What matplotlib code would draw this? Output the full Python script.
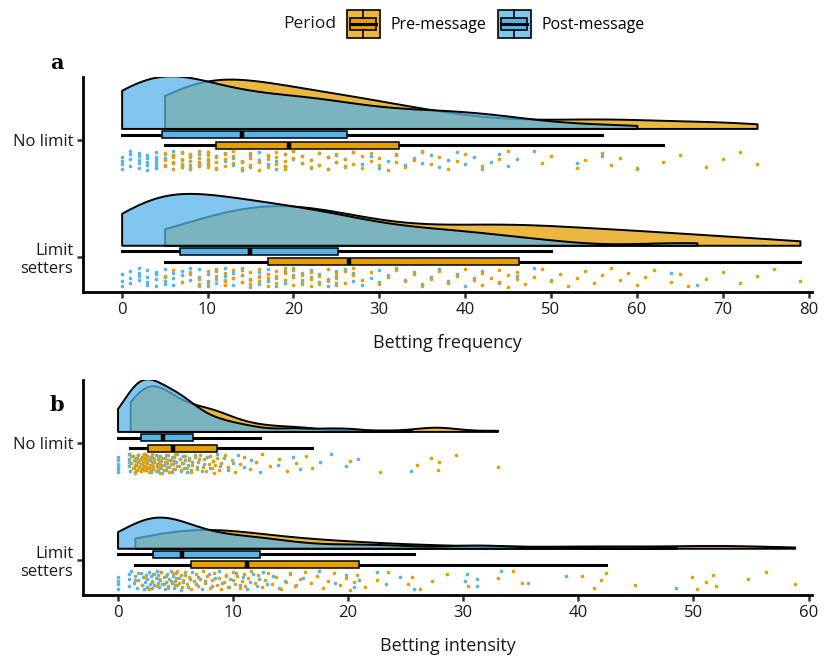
import numpy as np
import matplotlib.pyplot as plt
from matplotlib.patches import Rectangle
from matplotlib.lines import Line2D
from matplotlib.colors import to_rgba
from matplotlib.legend_handler import HandlerBase

plt.rcParams["font.family"] = ["Open Sans", "DejaVu Sans"]

PRE_COLOR = "#E69F00"
POST_COLOR = "#56B4E9"

group_labels = ["No limit", "Limit\nsetters"]
period_labels = ["Pre-message", "Post-message"]

# a: betting frequency
freq_nolimit_post = [
    0, 0, 0, 0, 1, 1, 1, 1, 2, 2, 2, 2, 2, 3, 3, 3, 3, 3, 4, 4, 4, 4, 4, 4, 4,
    5, 5, 5, 6, 6, 6, 7, 7, 7, 8, 8, 8, 9, 9, 9, 10, 10, 10, 11, 11, 12, 12, 13, 13, 14,
    14, 15, 15, 16, 16, 17, 17, 18, 18, 19, 19, 20, 20, 21, 21, 22, 22, 23, 23, 24, 24, 25, 25, 26, 26,
    27, 28, 29, 30, 31, 32, 33, 34, 35, 35, 36, 37, 38, 39, 40, 41, 42, 43, 44, 45, 46, 48, 53, 56, 60,
]
freq_nolimit_pre = [
    5, 5, 5, 6, 6, 6, 6, 7, 7, 7, 7, 8, 8, 8, 8, 9, 9, 9, 9, 10, 10, 10, 10, 10, 11,
    11, 11, 12, 12, 12, 13, 13, 13, 14, 14, 15, 15, 15, 16, 16, 17, 17, 17, 18, 18, 18, 19, 19, 19, 19,
    20, 20, 21, 21, 22, 22, 23, 23, 24, 24, 25, 25, 26, 26, 27, 27, 28, 28, 29, 29, 30, 30, 31, 32, 32,
    33, 34, 35, 36, 37, 38, 39, 40, 42, 44, 45, 49, 50, 53, 54, 56, 57, 58, 60, 63, 65, 68, 70, 72, 74,
]
freq_limit_post = [
    0, 0, 0, 1, 1, 1, 2, 2, 2, 2, 3, 3, 3, 3, 4, 4, 4, 4, 5, 5, 5, 5, 6, 6, 6,
    7, 7, 7, 8, 8, 8, 9, 9, 9, 10, 10, 10, 11, 11, 11, 12, 12, 12, 13, 13, 13, 14, 14, 14, 15,
    15, 16, 16, 16, 17, 17, 17, 18, 18, 19, 19, 20, 20, 21, 21, 21, 22, 22, 23, 23, 24, 24, 25, 25, 25,
    26, 27, 27, 28, 29, 30, 30, 31, 32, 33, 34, 35, 36, 37, 38, 39, 40, 41, 42, 44, 46, 48, 50, 64, 67,
]
freq_limit_pre = [
    5, 6, 7, 8, 9, 9, 10, 10, 11, 11, 12, 12, 12, 13, 13, 14, 14, 14, 15, 15, 15, 16, 16, 16, 17,
    17, 17, 18, 18, 18, 19, 19, 19, 20, 20, 20, 21, 21, 22, 22, 22, 23, 23, 24, 24, 25, 25, 25, 26, 26,
    27, 27, 28, 29, 30, 31, 32, 33, 34, 35, 36, 37, 38, 39, 40, 41, 42, 42, 43, 44, 44, 45, 45, 46, 46,
    47, 48, 49, 50, 51, 52, 53, 54, 55, 56, 57, 58, 59, 60, 61, 62, 64, 65, 66, 68, 70, 72, 74, 76, 79,
]

# b: betting intensity
int_nolimit_post = [
    0, 0, 0, 0, 0, 0, 1, 1, 1, 1, 1.1, 1.2, 1.3, 1.4, 1.5, 1.5, 1.6, 1.7, 1.7, 1.8, 1.8, 1.9, 1.9, 2.0, 2.0,
    2.1, 2.1, 2.2, 2.3, 2.3, 2.4, 2.5, 2.6, 2.6, 2.7, 2.8, 2.9, 3.0, 3.0, 3.1, 3.2, 3.3, 3.4, 3.5, 3.5,
    3.6, 3.7, 3.8, 3.8, 3.9,
    4.0, 4.1, 4.2, 4.3, 4.4, 4.5, 4.6, 4.7, 4.8, 4.9, 5.0, 5.1, 5.2, 5.3, 5.4, 5.5, 5.6, 5.7, 5.8, 5.9,
    6.0, 6.1, 6.2, 6.4, 6.5,
    6.7, 6.9, 7.1, 7.3, 7.5, 7.8, 8.0, 8.3, 8.6, 8.9, 9.2, 9.6, 10.0, 10.5, 11.0, 11.6, 12.4, 13.9,
    15.2, 15.8, 17.6, 18.5, 19.8, 20.9, 25.5,
]
int_nolimit_pre = [
    1.1, 1.2, 1.3, 1.4, 1.5, 1.5, 1.6, 1.7, 1.8, 1.8, 1.9, 2.0, 2.0, 2.1, 2.1, 2.2, 2.2, 2.3, 2.3, 2.4,
    2.4, 2.5, 2.5, 2.6, 2.6,
    2.7, 2.8, 2.8, 2.9, 3.0, 3.0, 3.1, 3.2, 3.3, 3.4, 3.5, 3.5, 3.6, 3.7, 3.8, 3.9, 4.0, 4.1, 4.2, 4.3,
    4.4, 4.5, 4.6, 4.7, 4.8,
    4.9, 5.0, 5.2, 5.4, 5.5, 5.7, 5.9, 6.0, 6.2, 6.4, 6.5, 6.7, 6.9, 7.0, 7.2, 7.4, 7.5, 7.7, 7.9, 8.0,
    8.2, 8.3, 8.4, 8.5, 8.6,
    8.8, 9.0, 9.3, 9.6, 9.9, 10.2, 10.6, 11.0, 11.5, 12.0, 12.5, 13.2, 14.0, 14.7, 15.5, 16.4, 16.9,
    20.2, 22.8, 26.0, 27.2, 27.8, 27.9, 29.4, 33.0,
]
int_limit_post = [
    0, 0, 0, 0, 1, 1, 1, 1.2, 1.4, 1.5, 1.7, 1.8, 2.0, 2.1, 2.2, 2.3, 2.4, 2.5, 2.6, 2.6, 2.7, 2.8, 2.9,
    3.0, 3.0,
    3.1, 3.2, 3.3, 3.4, 3.5, 3.5, 3.6, 3.7, 3.8, 3.9, 4.0, 4.1, 4.2, 4.3, 4.4, 4.5, 4.6, 4.7, 4.8, 4.9,
    5.0, 5.1, 5.2, 5.3, 5.5,
    5.7, 5.9, 6.1, 6.3, 6.5, 6.8, 7.0, 7.3, 7.6, 7.9, 8.2, 8.5, 8.8, 9.1, 9.4, 9.7, 10.0, 10.3, 10.6,
    10.9, 11.2, 11.5, 11.8, 12.1, 12.3,
    12.6, 13.0, 13.5, 14.0, 14.5, 15.0, 15.5, 16.1, 17.5, 18.9, 19.8, 20.5, 21.0, 22.5, 23.3, 24.5, 25.7,
    30.2, 30.3, 31.2, 31.2, 33.3, 35.6, 38.9, 48.5,
]
int_limit_pre = [
    1.5, 1.8, 2.1, 2.4, 2.7, 3.0, 3.2, 3.4, 3.6, 3.8, 4.0, 4.2, 4.4, 4.6, 4.8, 5.0, 5.1, 5.2, 5.3, 5.5,
    5.6, 5.7, 5.9, 6.0, 6.2,
    6.4, 6.6, 6.8, 7.0, 7.2, 7.4, 7.6, 7.8, 8.0, 8.2, 8.4, 8.6, 8.8, 9.0, 9.2, 9.4, 9.6, 9.8, 10.0, 10.2,
    10.4, 10.6, 10.8, 11.0, 11.1,
    11.3, 11.6, 11.9, 12.2, 12.5, 12.8, 13.1, 13.4, 13.8, 14.2, 14.6, 15.0, 15.4, 15.8, 16.3, 16.8, 17.3,
    17.8, 18.3, 18.8, 19.3, 19.8, 20.2, 20.5, 20.8,
    21.5, 22.5, 23.5, 25.2, 25.6, 26.3, 27.3, 28.6, 30.4, 33.0, 34.3, 35.1, 40.3, 41.4, 42.0, 42.4, 44.9,
    49.9, 50.3, 51.1, 51.7, 52.0, 54.7, 56.3, 58.8,
]

# group index 1 = No limit (top), 0 = Limit setters
panel_a = {1: (freq_nolimit_pre, freq_nolimit_post), 0: (freq_limit_pre, freq_limit_post)}
panel_b = {1: (int_nolimit_pre, int_nolimit_post), 0: (int_limit_pre, int_limit_post)}


def kde_nrd0(values, n_grid=512):
    v = np.asarray(values, float)
    sd = v.std(ddof=1)
    q75, q25 = np.percentile(v, [75, 25])
    bw = 0.9 * min(sd, (q75 - q25) / 1.34) * len(v) ** -0.2
    grid = np.linspace(v.min(), v.max(), n_grid)
    z = (grid[:, None] - v[None, :]) / bw
    dens = np.exp(-0.5 * z ** 2).sum(axis=1) / (len(v) * bw * np.sqrt(2 * np.pi))
    return grid, dens


def jitter(n, phase):
    # deterministic spread of points across the rain band
    return -0.09 - 0.165 * ((0.5 + phase + np.arange(n) * 0.6180339887) % 1.0)


def raincloud(ax, panel):
    curves = {}
    for g, (pre, post) in panel.items():
        curves[g] = (kde_nrd0(pre), kde_nrd0(post))
    gmax = max(c[1].max() for pair in curves.values() for c in pair)
    scale = 0.45 / gmax
    for g, (pre, post) in panel.items():
        base = g + 0.10
        for (grid, dens), col in zip(curves[g], [PRE_COLOR, POST_COLOR]):
            ax.fill_between(grid, base, base + dens * scale, facecolor=to_rgba(col, 0.75),
                            edgecolor="black", linewidth=1.4, zorder=2)
        for vals, col, off in [(post, POST_COLOR, 0.047), (pre, PRE_COLOR, -0.043)]:
            ax.boxplot(vals, vert=False, positions=[g + off], widths=0.06, patch_artist=True,
                       showfliers=False, showcaps=False, manage_ticks=False,
                       boxprops=dict(facecolor=col, edgecolor="black", linewidth=1.1, zorder=4),
                       whiskerprops=dict(color="black", linewidth=2.2, zorder=3),
                       medianprops=dict(color="black", linewidth=3.2, zorder=5))
        ax.scatter(post, g + jitter(len(post), 0.21), s=7, color=POST_COLOR, linewidths=0, zorder=6)
        ax.scatter(pre, g + jitter(len(pre), 0.0), s=7, color=PRE_COLOR, linewidths=0, zorder=6)


def style(ax, xlabel, xticks):
    ax.set_ylim(-0.30, 1.54)
    ax.set_yticks([1, 0])
    ax.set_yticklabels(group_labels)
    ax.set_xticks(xticks)
    ax.set_xlabel(xlabel, fontsize=13, labelpad=12, color="#1a1a1a")
    for s in ["top", "right"]:
        ax.spines[s].set_visible(False)
    for s in ["left", "bottom"]:
        ax.spines[s].set_linewidth(2)
    ax.tick_params(length=4, width=1.8, color="#333333", labelsize=12, labelcolor="#1a1a1a", pad=3)


class BoxKeyHandler(HandlerBase):
    def create_artists(self, legend, orig_handle, xdescent, ydescent, width, height, fontsize, trans):
        col = orig_handle.get_facecolor()
        x0, y0 = -xdescent, -ydescent
        outer = Rectangle((x0, y0), width, height, facecolor=to_rgba(col, 0.75),
                          edgecolor="black", linewidth=1.2, transform=trans)
        inner = Rectangle((x0 + 0.1 * width, y0 + 0.27 * height), 0.8 * width, 0.46 * height,
                          facecolor=col, edgecolor="black", linewidth=1.2, transform=trans)
        med = Line2D([x0 + 0.1 * width, x0 + 0.9 * width], [y0 + 0.5 * height] * 2,
                     color="black", linewidth=2.2, transform=trans)
        w1 = Line2D([x0 + 0.5 * width] * 2, [y0, y0 + 0.27 * height], color="black",
                    linewidth=1.2, transform=trans)
        w2 = Line2D([x0 + 0.5 * width] * 2, [y0 + 0.73 * height, y0 + height], color="black",
                    linewidth=1.2, transform=trans)
        return [outer, inner, med, w1, w2]


fig = plt.figure(figsize=(8.35, 6.65), dpi=100)
ax_a = fig.add_axes([83 / 835, 1 - 292 / 665, 729 / 835, 215 / 665])
ax_b = fig.add_axes([83 / 835, 1 - 595 / 665, 729 / 835, 215 / 665])

raincloud(ax_a, panel_a)
style(ax_a, "Betting frequency", range(0, 81, 10))
ax_a.set_xlim(-4.5, 80.4)

raincloud(ax_b, panel_b)
style(ax_b, "Betting intensity", range(0, 61, 10))
ax_b.set_xlim(-3.0, 60.3)

fig.text(57 / 835, 1 - 63 / 665, "a", fontsize=15, fontweight="bold", family="DejaVu Serif",
         ha="center", va="center")
fig.text(57 / 835, 1 - 405 / 665, "b", fontsize=15, fontweight="bold", family="DejaVu Serif",
         ha="center", va="center")

handles = [Rectangle((0, 0), 1, 1, facecolor=PRE_COLOR), Rectangle((0, 0), 1, 1, facecolor=POST_COLOR)]
fig.text(336 / 835, 1 - 24 / 665, "Period", fontsize=12.5, ha="right", va="center", color="#1a1a1a")
fig.legend(handles, period_labels, ncol=2, loc="center left", bbox_to_anchor=(347 / 835, 1 - 24 / 665),
           frameon=False, fontsize=11.5, handlelength=2.05, handleheight=2.25, handletextpad=0.7,
           columnspacing=0.7, borderpad=0, borderaxespad=0,
           handler_map={Rectangle: BoxKeyHandler()})

fig.savefig("out.png", dpi=100)
